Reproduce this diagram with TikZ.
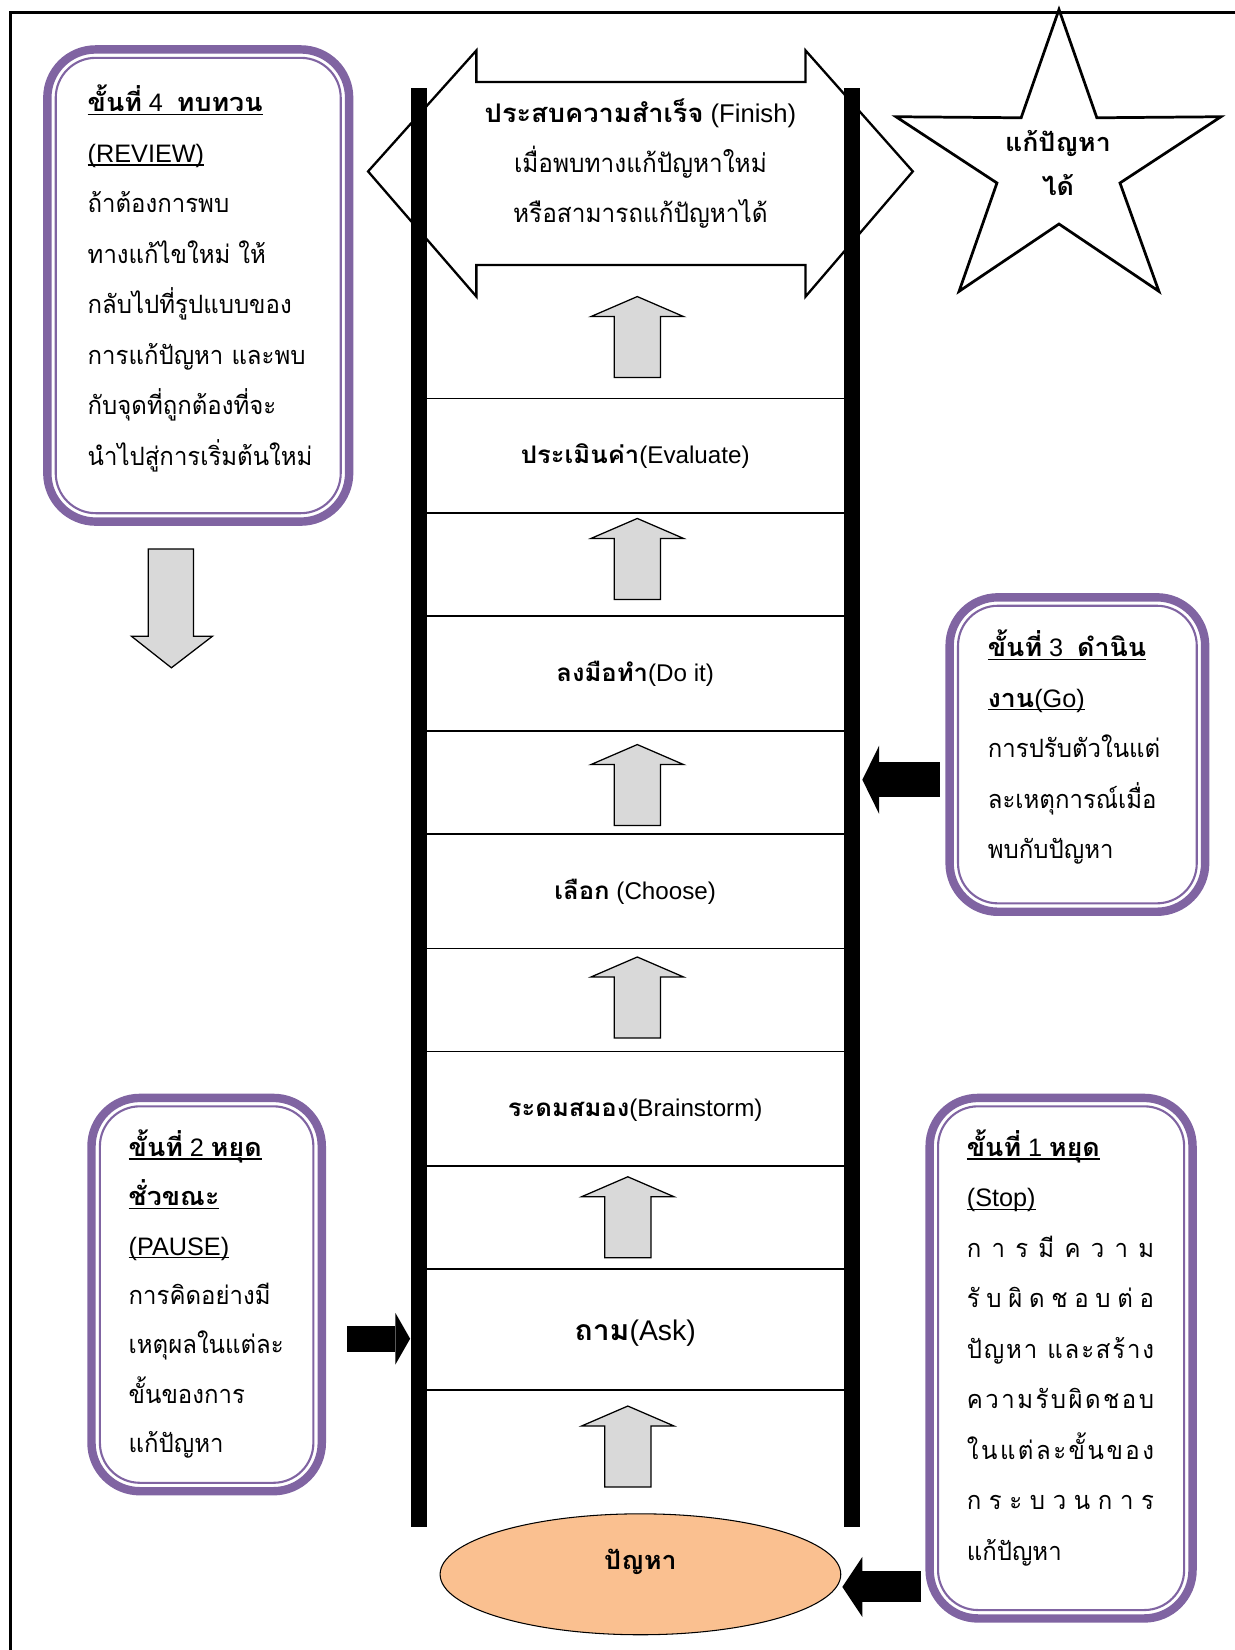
\documentclass[tikz,border=0pt]{standalone}
\usepackage{fontspec}
\setmainfont{Liberation Sans}
\newfontfamily\thaifont[Script=Thai, UprightFeatures={FakeStretch=0.95}, BoldFeatures={FakeStretch=1.06}]{Loma}
\usepackage{xcolor}
\usetikzlibrary{arrows.meta, shapes.geometric}
\definecolor{boxpurple}{RGB}{128,100,162}
\definecolor{arrowgray}{RGB}{217,217,217}
\definecolor{problemorange}{RGB}{250,192,144}
\newcommand{\thr}[1]{{\thaifont #1}}
\newcommand{\thb}[1]{{\thaifont\bfseries #1}}
\newcommand{\undr}[1]{\setbox0\hbox{#1}\rlap{\rule[-1.6pt]{\wd0}{0.6pt}}\box0}
\newcommand{\spreadline}[1]{\makebox[89pt]{\thaifont #1}}

\begin{document}
\begin{tikzpicture}[x=0.5pt, y=-0.5pt,
    frameout/.style={draw=boxpurple, line width=4pt, rounded corners=23pt},
    framein/.style={draw=boxpurple, line width=1pt, rounded corners=19pt},
    boxtext/.style={anchor=north west, align=left, inner sep=0pt, font=\fontsize{12}{24}\selectfont},
    steptext/.style={anchor=base, inner sep=0pt, font=\fontsize{11.5}{14}\selectfont},
    grayarrow/.style={draw=black, line width=0.6pt, fill=arrowgray, line join=miter},
    blockarrow/.style n args={3}{line width=#1, -{Triangle[length=#2, width=#3, line width=0pt]}}]
\useasboundingbox (0,0) rectangle (1174,1569);
% page frame
\draw[line width=1.4pt, line join=miter] (1190,12) -- (10,12) -- (10,1590);

% finish arrow at the top of the ladder
\draw[line width=1.1pt, fill=white, line join=miter] (350,163) -- (453,48) -- (453,78) -- (766,78) -- (766,48)
    -- (868,163) -- (766,282) -- (766,252) -- (453,252) -- (453,282) -- cycle;
\node[anchor=north, align=center, inner sep=0pt, font=\fontsize{12.2}{23.75}\selectfont] (finish) at (609,82.75)
    {\strut\thb{ประสบความสำเร็จ} (Finish)\\ \thr{เมื่อพบทางแก้ปัญหาใหม่}\\ \thr{หรือสามารถแก้ปัญหาได้}};

% ladder
\fill (391,84) rectangle (406,1452);
\fill (803,84) rectangle (818,1452);
\foreach \y in {379,488,586,695,793,902,1000,1109,1207,1322} {
    \draw[line width=0.8pt] (406,\y) -- (803,\y);
}
\foreach \cx/\ty in {606/282, 606/493, 606/708, 606/910, 597/1119, 597/1337} {
    \draw[grayarrow] (\cx,\ty) -- ++(44,19) -- ++(-22,0) -- ++(0,58) -- ++(-44,0) -- ++(0,-58) -- ++(-22,0) -- cycle;
}
\node[steptext] (evaluate) at (604,441) {\thb{ประเมินค่า}(Evaluate)};
\node[steptext] (doit) at (604,648) {\thb{ลงมือทำ}(Do it)};
\node[steptext] (choose) at (604,855) {\thb{เลือก} (Choose)};
\node[steptext] (brainstorm) at (604,1062) {\thb{ระดมสมอง}(Brainstorm)};
\node[steptext, font=\fontsize{13.5}{16}\selectfont] (ask) at (604,1275) {\thb{ถาม}(Ask)};
\node[ellipse, draw, line width=0.5pt, fill=problemorange, minimum width=190.5pt, minimum height=57.5pt,
    inner sep=0pt, text height=2pt, text depth=6.5pt, font=\fontsize{12}{14}\selectfont] (problem) at (609,1497) {\thb{ปัญหา}};

% star
\draw[line width=1.3pt, line join=miter] (1007,9) -- (1043,112) -- (1161,111) -- (1065,174) -- (1102,277)
    -- (1007,213) -- (912,277) -- (948,174) -- (852,111) -- (971,112) -- cycle;
\node[anchor=north, align=center, inner sep=0pt, font=\fontsize{12}{20.75}\selectfont] (solved) at (1006,115)
    {\strut\thb{แก้ปัญหา}\\ \thb{ได้}};

% step boxes
\foreach \xa/\ya/\xb/\yb in {41/43/336/500, 899/564/1150/871, 83/1040/310/1422, 880/1040/1138/1543} {
    \draw[frameout] (\xa+4,\ya+4) rectangle (\xb-4,\yb-4);
    \draw[framein] (\xa+12,\ya+12) rectangle (\xb-12,\yb-12);
}
\node[boxtext] (review) at (83,72.4) {\strut\undr{\thb{ขั้นที่} 4\ \ \thb{ทบทวน}}\\ \undr{(REVIEW)}\\
    \thr{ถ้าต้องการพบ}\\ \thr{ทางแก้ไขใหม่ ให้}\\ \thr{กลับไปที่รูปแบบของ}\\ \thr{การแก้ปัญหา และพบ}\\
    \thr{กับจุดที่ถูกต้องที่จะ}\\ \thr{นำไปสู่การเริ่มต้นใหม่}};
\node[boxtext] (go) at (939,590.4) {\strut\undr{\thb{ขั้นที่} 3\ \ \thb{ดำนิน}}\\ \undr{\thb{งาน}(Go)}\\
    \thr{การปรับตัวในแต่}\\ \thr{ละเหตุการณ์เมื่อ}\\ \thr{พบกับปัญหา}};
\node[boxtext, font=\fontsize{12}{23.5}\selectfont] (pause) at (122,1066.1) {\strut\undr{\thb{ขั้นที่} 2 \thb{หยุด}}\\ \undr{\thb{ชั่วขณะ}}\\ \undr{(PAUSE)}\\
    \thr{การคิดอย่างมี}\\ \thr{เหตุผลในแต่ละ}\\ \thr{ขั้นของการ}\\ \thr{แก้ปัญหา}};
\node[boxtext] (stop) at (919,1065.4) {\strut\undr{\thb{ขั้นที่} 1 \thb{หยุด}}\\ \undr{(Stop)}\\
    \spreadline{ก\hfill า\hfill ร\hfill มี\hfill ค\hfill ว\hfill า\hfill ม}\\
    \spreadline{รั\hfill บ\hfill ผิ\hfill ด\hfill ช\hfill อ\hfill บ\hfill ต่\hfill อ}\\
    \spreadline{ปั\hfill ญ\hfill ห\hfill า\hspace{4pt}\hfill แ\hfill ล\hfill ะ\hfill ส\hfill ร้\hfill า\hfill ง}\\
    \spreadline{ค\hfill ว\hfill า\hfill ม\hfill รั\hfill บ\hfill ผิ\hfill ด\hfill ช\hfill อ\hfill บ}\\
    \spreadline{ใ\hfill น\hfill แ\hfill ต่\hfill ล\hfill ะ\hfill ขั้\hfill น\hfill ข\hfill อ\hfill ง}\\
    \spreadline{ก\hfill ร\hfill ะ\hfill บ\hfill ว\hfill น\hfill ก\hfill า\hfill ร}\\
    \thr{แก้ปัญหา}};

% arrows from the boxes
\coordinate (go tail) at (893.5,741.5);
\coordinate (go head) at (820,741.5);
\coordinate (pause tail) at (330,1273);
\coordinate (pause head) at (390,1273);
\coordinate (stop tail) at (876,1509);
\coordinate (stop head) at (801,1509);
\draw[blockarrow={16.7pt}{8pt}{32.5pt}] (go tail) -- (go head);
\draw[blockarrow={12.2pt}{7pt}{24.5pt}] (pause tail) -- (pause head);
\draw[blockarrow={14.7pt}{9.5pt}{28.5pt}] (stop tail) -- (stop head);
% arrow below the review box
\draw[grayarrow] (141,522) -- (184,522) -- (184,605) -- (202,605) -- (163,635) -- (125,605) -- (141,605) -- cycle;
\end{tikzpicture}
\end{document}
